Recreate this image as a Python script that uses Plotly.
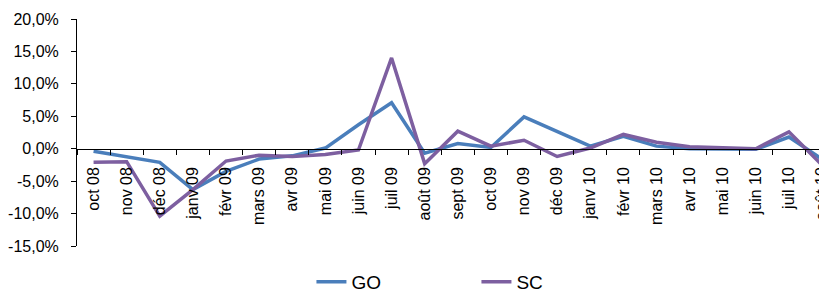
import plotly.graph_objects as go

months = ["oct 08", "nov 08", "déc 08", "janv 09", "févr 09", "mars 09", "avr 09", "mai 09",
          "juin 09", "juil 09", "août 09", "sept 09", "oct 09", "nov 09", "déc 09", "janv 10",
          "févr 10", "mars 10", "avr 10", "mai 10", "juin 10", "juil 10", "août 10"]

go_vals = [-0.004, -0.012, -0.021, -0.063, -0.035, -0.016, -0.011, 0.001, 0.037, 0.071,
           -0.007, 0.008, 0.002, 0.049, 0.027, 0.004, 0.019, 0.004, 0.000, 0.000, -0.001,
           0.018, -0.016]
sc_vals = [-0.021, -0.020, -0.104, -0.063, -0.019, -0.010, -0.012, -0.009, -0.002, 0.140,
           -0.023, 0.027, 0.004, 0.013, -0.012, 0.001, 0.022, 0.010, 0.003, 0.001, 0.000,
           0.026, -0.025]

y_tickvals = [-0.15, -0.10, -0.05, 0.0, 0.05, 0.10, 0.15, 0.20]
y_ticktext = ["-15,0%", "-10,0%", "-5,0%", "0,0%", "5,0%", "10,0%", "15,0%", "20,0%"]

FONT = "Arial, Liberation Sans, sans-serif"

fig = go.Figure()
fig.add_trace(go.Scatter(x=months, y=go_vals, name="GO", mode="lines",
                         line=dict(color="#4A7EBB", width=3.5)))
fig.add_trace(go.Scatter(x=months, y=sc_vals, name="SC", mode="lines",
                         line=dict(color="#7D5FA0", width=3.5)))

fig.update_layout(
    width=819, height=284,
    margin=dict(l=69, r=0, t=11, b=46, autoexpand=False),
    paper_bgcolor="white", plot_bgcolor="white",
    font=dict(family=FONT, color="black"),
    hovermode=False,
    showlegend=True,
    legend=dict(orientation="h", xref="container", yref="container",
                x=0.3705, y=0.0352, xanchor="left", yanchor="middle",
                font=dict(size=19, family=FONT), entrywidth=120,
                bgcolor="rgba(0,0,0,0)"),
    xaxis=dict(
        type="category", range=[-0.5, 22.15],
        anchor="free", position=15/35, automargin=False,
        showline=True, linecolor="black", linewidth=1,
        ticks="outside", ticklen=5, tickcolor="black", tickson="boundaries",
        tickangle=-90, tickfont=dict(size=16, family=FONT),
        ticklabelstandoff=11,
        showgrid=False, zeroline=False,
    ),
    yaxis=dict(
        range=[-0.15, 0.20], tickvals=y_tickvals, ticktext=y_ticktext,
        automargin=False,
        showline=True, linecolor="black", linewidth=1,
        ticks="outside", ticklen=5, tickcolor="black",
        tickfont=dict(size=16, family=FONT), ticklabelstandoff=9,
        showgrid=False, zeroline=False,
    ),
)

fig.write_html("out.html")
